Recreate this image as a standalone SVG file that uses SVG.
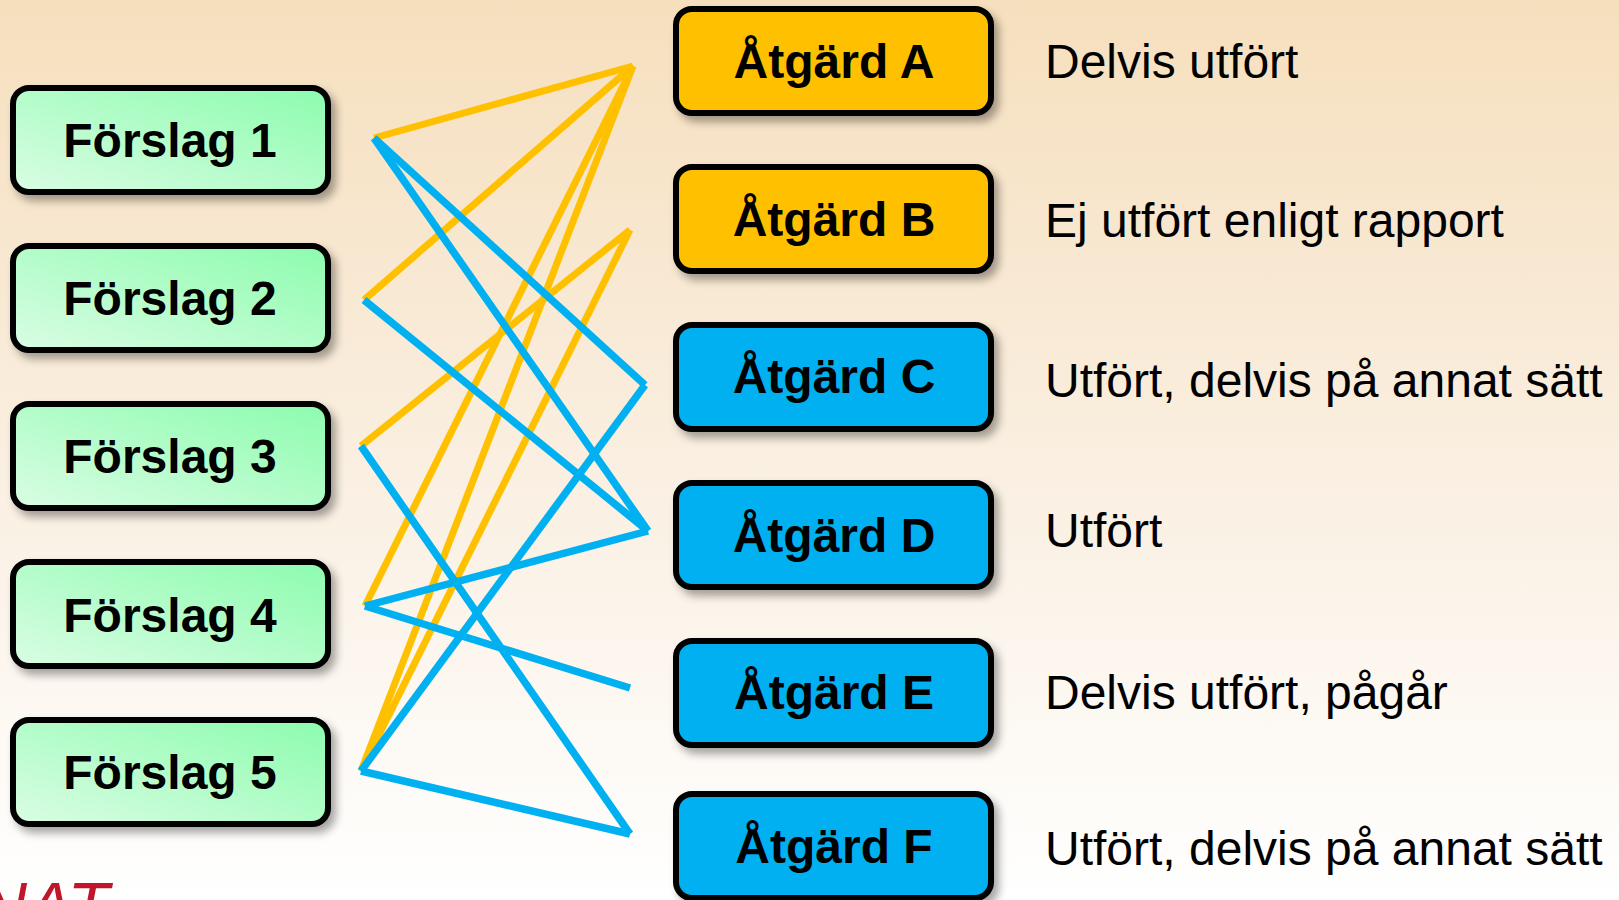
<svg xmlns="http://www.w3.org/2000/svg" width="1619" height="900" viewBox="0 0 1619 900">
  <defs>
    <linearGradient id="bg" x1="0" y1="0" x2="0" y2="1">
      <stop offset="0" stop-color="#F6DFBD"/>
      <stop offset="0.55" stop-color="#FAF0E3"/>
      <stop offset="1" stop-color="#FFFFFF"/>
    </linearGradient>
    <linearGradient id="mint" x1="0" y1="1" x2="1" y2="0">
      <stop offset="0" stop-color="#DAFDE4"/>
      <stop offset="1" stop-color="#8CFCAE"/>
    </linearGradient>
    <filter id="sh" x="-10%" y="-10%" width="125%" height="135%">
      <feDropShadow dx="5" dy="6" stdDeviation="4" flood-color="#000" flood-opacity="0.35"/>
    </filter>
    <style>
      .box { stroke: #000; stroke-width: 6; filter: url(#sh); }
      .f { fill: url(#mint); }
      .o { fill: #FFC000; }
      .b { fill: #00B0F0; }
      .bt { font-family: "Liberation Sans", Arial, sans-serif; font-weight: bold; font-size: 48px; text-anchor: middle; fill: #000; }
      .lt { font-family: "Liberation Sans", Arial, sans-serif; font-size: 48px; fill: #000; }
      .co { stroke: #FFC000; stroke-width: 7; fill: none; }
      .cb { stroke: #00B0F0; stroke-width: 7.5; fill: none; }
    </style>
  </defs>
  <rect x="0" y="0" width="1619" height="900" fill="url(#bg)"/>

  <text x="-22" y="930" font-family="Liberation Sans, Arial, sans-serif" font-size="68" font-style="italic" fill="#C0152A">NAT</text>

  <g id="connectors">
    <line class="co" x1="374" y1="138" x2="633" y2="66"/>
    <line class="co" x1="364" y1="300" x2="633" y2="66"/>
    <line class="co" x1="365" y1="606" x2="633" y2="66"/>
    <line class="co" x1="361" y1="771" x2="633" y2="66"/>
    <line class="co" x1="361" y1="446" x2="630" y2="230"/>
    <line class="co" x1="361" y1="771" x2="630" y2="230"/>
    <line class="cb" x1="374" y1="138" x2="645" y2="385"/>
    <line class="cb" x1="374" y1="138" x2="648" y2="531"/>
    <line class="cb" x1="364" y1="300" x2="648" y2="531"/>
    <line class="cb" x1="361" y1="446" x2="630" y2="834"/>
    <line class="cb" x1="365" y1="606" x2="648" y2="531"/>
    <line class="cb" x1="365" y1="606" x2="630" y2="688"/>
    <line class="cb" x1="361" y1="771" x2="645" y2="385"/>
    <line class="cb" x1="361" y1="771" x2="630" y2="834"/>
  </g>

  <g id="forslag1"><rect class="box f" x="13" y="88" width="315" height="104" rx="16"/><text class="bt" x="170" y="157">Förslag 1</text></g>
  <g id="forslag2"><rect class="box f" x="13" y="246" width="315" height="104" rx="16"/><text class="bt" x="170" y="315">Förslag 2</text></g>
  <g id="forslag3"><rect class="box f" x="13" y="404" width="315" height="104" rx="16"/><text class="bt" x="170" y="473">Förslag 3</text></g>
  <g id="forslag4"><rect class="box f" x="13" y="562" width="315" height="104" rx="16"/><text class="bt" x="170" y="632">Förslag 4</text></g>
  <g id="forslag5"><rect class="box f" x="13" y="720" width="315" height="104" rx="16"/><text class="bt" x="170" y="789">Förslag 5</text></g>

  <g id="atgardA"><rect class="box o" x="676" y="9" width="315" height="104" rx="16"/><text class="bt" x="834" y="78">Åtgärd A</text></g>
  <g id="atgardB"><rect class="box o" x="676" y="167" width="315" height="104" rx="16"/><text class="bt" x="834" y="236">Åtgärd B</text></g>
  <g id="atgardC"><rect class="box b" x="676" y="325" width="315" height="104" rx="16"/><text class="bt" x="834" y="393">Åtgärd C</text></g>
  <g id="atgardD"><rect class="box b" x="676" y="483" width="315" height="104" rx="16"/><text class="bt" x="834" y="552">Åtgärd D</text></g>
  <g id="atgardE"><rect class="box b" x="676" y="641" width="315" height="104" rx="16"/><text class="bt" x="834" y="709">Åtgärd E</text></g>
  <g id="atgardF"><rect class="box b" x="676" y="794" width="315" height="104" rx="16"/><text class="bt" x="834" y="863">Åtgärd F</text></g>

  <g id="labels">
    <text class="lt" x="1045" y="78">Delvis utfört</text>
    <text class="lt" x="1045" y="237">Ej utfört enligt rapport</text>
    <text class="lt" x="1045" y="397">Utfört, delvis på annat sätt</text>
    <text class="lt" x="1045" y="547">Utfört</text>
    <text class="lt" x="1045" y="709">Delvis utfört, pågår</text>
    <text class="lt" x="1045" y="865">Utfört, delvis på annat sätt</text>
  </g>
</svg>
